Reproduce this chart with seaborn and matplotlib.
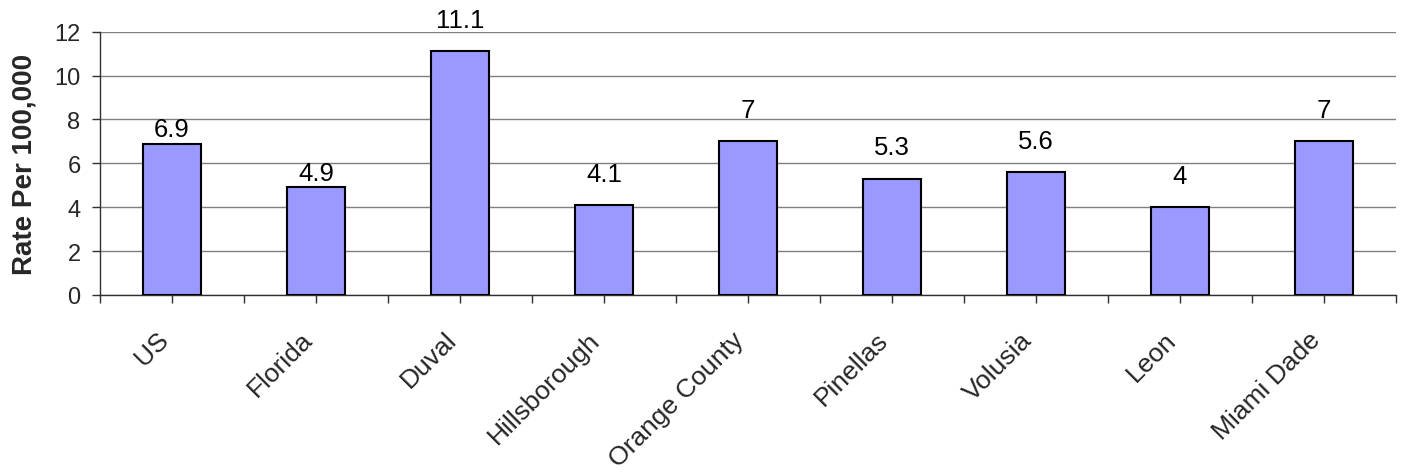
import matplotlib
matplotlib.use("Agg")
import matplotlib.pyplot as plt
from matplotlib.transforms import ScaledTranslation
import seaborn as sns
import pandas as pd

regions = ["US", "Florida", "Duval", "Hillsborough", "Orange County",
           "Pinellas", "Volusia", "Leon", "Miami Dade"]
rates = [6.9, 4.9, 11.1, 4.1, 7, 5.3, 5.6, 4, 7]
value_labels = ["6.9", "4.9", "11.1", "4.1", "7", "5.3", "5.6", "4", "7"]
y_ticks = [0, 2, 4, 6, 8, 10, 12]

sns.set_theme(style="white")
plt.rcParams["font.family"] = ["Liberation Sans", "DejaVu Sans"]

df = pd.DataFrame({"region": regions, "rate": rates})

fig = plt.figure(figsize=(14.02, 4.77), dpi=100)
ax = fig.add_axes([100 / 1402, (477 - 296) / 477, 1296 / 1402, (296 - 32.7) / 477])

sns.barplot(data=df, x="region", y="rate", ax=ax, color="#9999FF",
            saturation=1, width=0.4, edgecolor="black", linewidth=1.5, zorder=3)

ax.set_ylim(0, 12)
ax.set_xlim(-0.5, len(regions) - 0.5)
ax.set_yticks(y_ticks)
ax.set_yticklabels([str(t) for t in y_ticks], fontsize=17)
ax.yaxis.grid(True, color="#808080", linewidth=1.0, zorder=0)
ax.xaxis.grid(False)

# category ticks at centres plus boundary ticks between categories
ax.set_xticks(range(len(regions)))
ax.set_xticklabels(regions, rotation=45, ha="right", rotation_mode="anchor",
                   fontsize=19)
ax.set_xticks([i - 0.5 for i in range(len(regions) + 1)], minor=True)
ax.tick_params(axis="x", which="both", direction="out", length=6, width=1,
               color="#303030", bottom=True, pad=17)
ax.tick_params(axis="y", direction="out", length=6, width=1, color="#303030",
               left=True, pad=8)

# nudge the slanted category labels slightly left of their ticks
shift = ScaledTranslation(-0.16, 0.0, fig.dpi_scale_trans)
for lbl in ax.get_xticklabels():
    lbl.set_transform(lbl.get_transform() + shift)

for side in ["top", "right"]:
    ax.spines[side].set_visible(False)
for side in ["left", "bottom"]:
    ax.spines[side].set_color("#303030")
    ax.spines[side].set_linewidth(1.0)

ax.set_xlabel("")
ax.set_ylabel("Rate Per 100,000", fontsize=20, fontweight="bold", labelpad=12)

# vertical lift of each value label above its bar, in points
label_lift = [2, 2, 14, 14, 14, 14, 14, 14, 14]
for i, (v, lab) in enumerate(zip(rates, value_labels)):
    ax.annotate(lab, (i, v), xytext=(0, label_lift[i]), textcoords="offset points",
                ha="center", va="bottom", fontsize=18.5, color="black")

fig.savefig("out.png", dpi=100)
